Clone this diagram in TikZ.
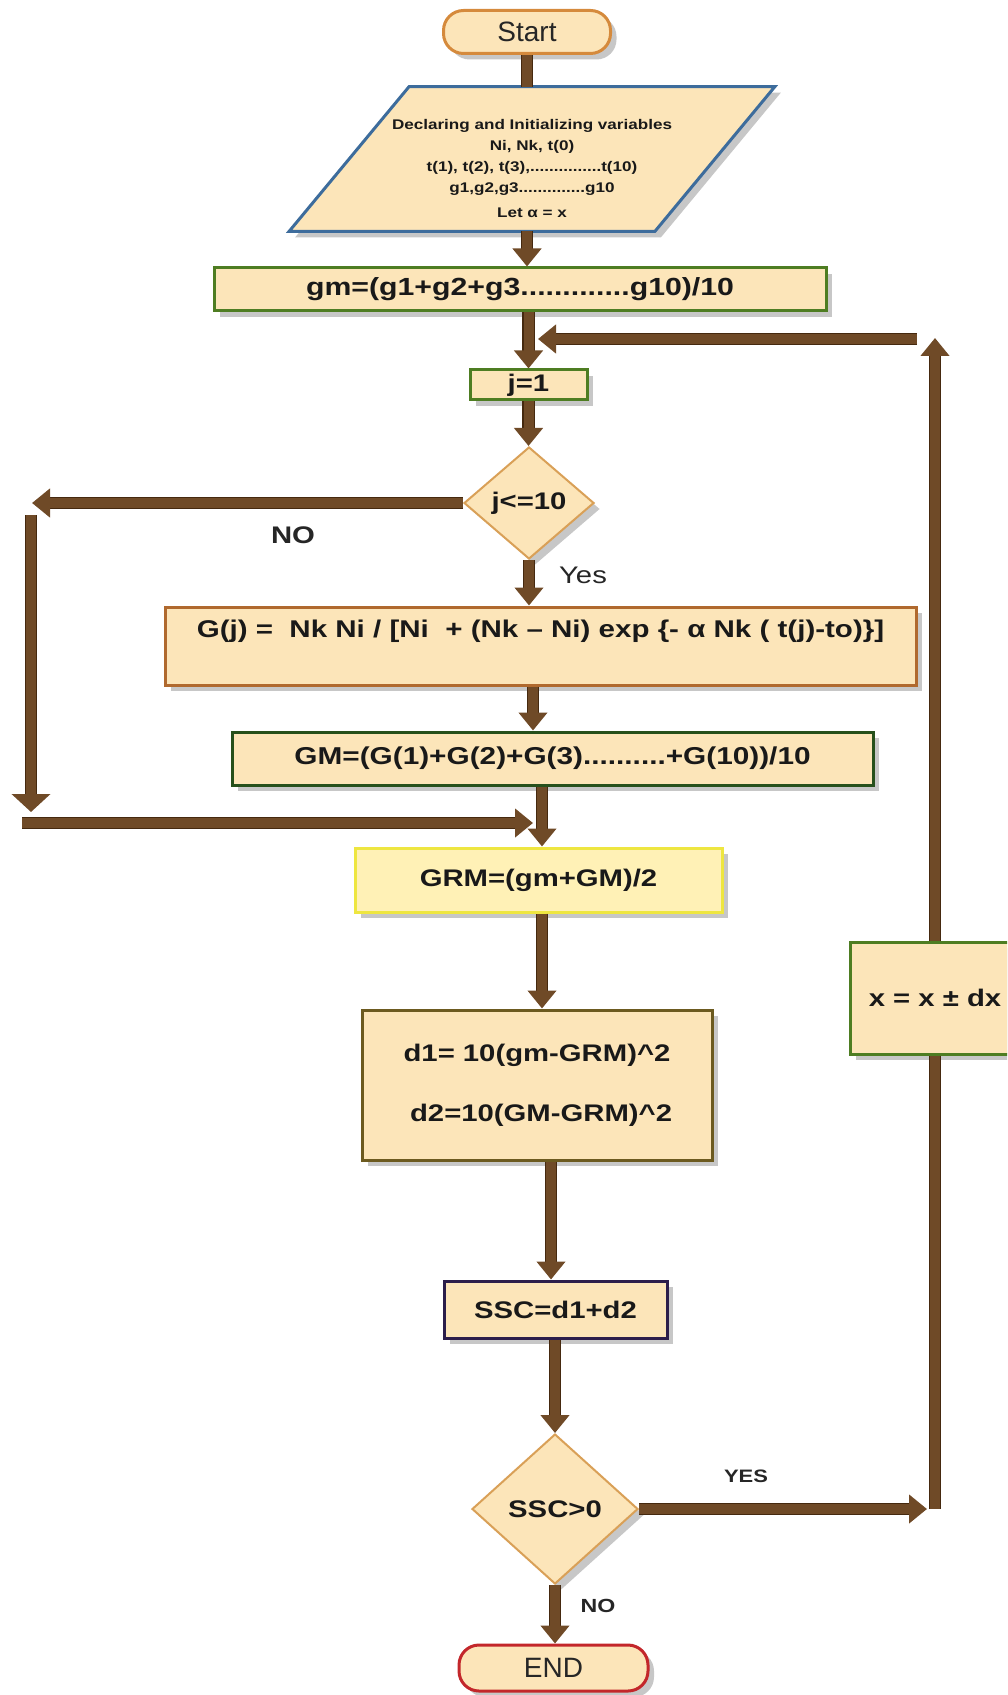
\documentclass[tikz,border=0pt]{standalone}
\usepackage{fontspec}
\setmainfont{Liberation Sans}
\newfontfamily\wideface[FakeStretch=1.22]{Liberation Sans}
\usetikzlibrary{shapes,arrows.meta,shadows,backgrounds,calc}
\definecolor{BoxSand}{HTML}{FCE5B9}
\definecolor{BoxLemon}{HTML}{FFF1B6}
\definecolor{FlowBrown}{HTML}{6F4A27}
\definecolor{FlowDark}{HTML}{45290F}
\definecolor{LeafGreen}{HTML}{4E7D22}
\definecolor{PineGreen}{HTML}{26501B}
\definecolor{SkyEdge}{HTML}{3D6C9C}
\definecolor{StartOrange}{HTML}{D58A3C}
\definecolor{EndRed}{HTML}{C3272B}
\definecolor{RustEdge}{HTML}{B0692E}
\definecolor{OliveEdge}{HTML}{6C5A1F}
\definecolor{PlumEdge}{HTML}{2C1E4B}
\definecolor{TanEdge}{HTML}{D9A057}
\definecolor{LemonEdge}{HTML}{EEE640}
\tikzset{
    boxshadow/.style = {drop shadow={shadow xshift=3pt, shadow yshift=-3pt, opacity=0.4, fill=black!55}},
    block/.style = {draw, rectangle, fill=BoxSand, line width=1.5pt, boxshadow, inner sep=0pt,
        text=black!90, font=\wideface\bfseries\fontsize{12}{14}\selectfont},
    terminal/.style = {draw, rectangle, rounded corners=10pt, fill=BoxSand, line width=1.5pt,
        boxshadow, text=black!85, font=\fontsize{14}{16}\selectfont},
    decision/.style = {draw=TanEdge, diamond, fill=BoxSand, line width=1pt, inner sep=0pt,
        boxshadow, text=black!90, font=\wideface\bfseries\fontsize{12}{14}\selectfont},
    flowarrow/.style = {draw=FlowBrown, line width=5pt, -{Triangle[width=14pt,length=9pt]},
        preaction={draw=FlowDark, line width=6.4pt, arrows=-, shorten >=8pt}},
    flowbar/.style = {draw=FlowBrown, line width=5pt,
        preaction={draw=FlowDark, line width=6.4pt}},
    flowtag/.style = {text=black!85, font=\wideface\bfseries\fontsize{9}{11}\selectfont}
}
\begin{document}
\begin{tikzpicture}[x=0.5pt,y=-0.5pt]
\useasboundingbox (0,0) rectangle (1007,1695);
\clip (0,0) rectangle (1007,1695);
\coordinate (colB) at (533,0);
\coordinate (colC) at (542,0);
\coordinate (colD) at (551,0);
\coordinate (noleft) at (32,503);
\coordinate (lefttop) at (31,515);
\coordinate (leftbot) at (31,812);
\coordinate (botleft) at (22,823);
\coordinate (botright) at (533,823);
\coordinate (fbstart) at (917,339);
\coordinate (fbtip) at (538,339);
\coordinate (xtop) at (935,338);
\coordinate (yesend) at (927,1509);

\node [terminal, draw=StartOrange, minimum width=83.5pt, minimum height=21.5pt] (start) at (527,32) {Start};
\node [minimum width=182.5pt, minimum height=72pt, inner sep=0pt, align=center, text=black!90,
    font=\wideface\bfseries\fontsize{7}{10.5}\selectfont] (params) at (532,159)
    {\rule{0pt}{15pt}Declaring and Initializing variables\\Ni, Nk, t(0)\\t(1), t(2), t(3),...............t(10)\\g1,g2,g3..............g10\\[2pt]Let α = x};
\begin{scope}[on background layer]
    \filldraw [fill=BoxSand, draw=SkyEdge, line width=1.5pt, boxshadow] ([xshift=30pt]params.north west) -- ([xshift=30pt]params.north east)
        -- ([xshift=-30pt]params.south east) -- ([xshift=-30pt]params.south west) -- cycle;
\end{scope}
\node [block, draw=LeafGreen, minimum width=306pt, minimum height=21.5pt,
    font=\wideface\bfseries\fontsize{12.4}{15}\selectfont] (gm) at (520,289.5) {gm=(g1+g2+g3.............g10)/10};
\node [block, draw=LeafGreen, minimum width=58.5pt, minimum height=15pt] (jone) at (528.5,385) {j=1};
\node [decision, minimum width=65pt, minimum height=56pt] (jcheck) at (529,503) {j<=10};
\node [block, draw=RustEdge, minimum width=375.5pt, minimum height=39pt, text height=15pt, text depth=24pt,
    font=\wideface\bfseries\fontsize{12.1}{14}\selectfont] (gj) at (540.5,646)
    {G(j) =\ \ Nk Ni / [Ni\ \ + (Nk – Ni) exp \{- α Nk ( t(j)-to)\}]};
\node [block, draw=PineGreen, minimum width=320.5pt, minimum height=26.5pt,
    font=\wideface\bfseries\fontsize{12.2}{15}\selectfont] (GM) at (552.5,758.5) {GM=(G(1)+G(2)+G(3)..........+G(10))/10};
\node [block, draw=LemonEdge, fill=BoxLemon, minimum width=183.5pt, minimum height=32pt] (GRM) at (538.5,880) {GRM=(gm+GM)/2};
\node [block, draw=OliveEdge, minimum width=175pt, minimum height=75pt, align=center] (dbox) at (537,1085)
    {d1= 10(gm-GRM)\textasciicircum 2\\[16pt]\ d2=10(GM-GRM)\textasciicircum 2};
\node [block, draw=PlumEdge, minimum width=111.5pt, minimum height=28.5pt] (ssc) at (555.5,1309.5) {SSC=d1+d2};
\node [decision, minimum width=83pt, minimum height=75pt] (sscheck) at (555,1509) {SSC>0};
\node [block, draw=LeafGreen, minimum width=85pt, minimum height=56pt] (xbox) at (935,998) {x = x ± dx};
\node [terminal, draw=EndRed, minimum width=94.5pt, minimum height=23pt] (finish) at (553.5,1668) {END};

\node [flowtag, font=\wideface\bfseries\fontsize{12}{14}\selectfont] (nolabel) at (293,535) {NO};
\node [flowtag, font=\wideface\fontsize{12}{14}\selectfont] (yeslabel) at (583,575) {Yes};
\node [flowtag] (yestag) at (746,1476) {YES};
\node [flowtag, font=\wideface\bfseries\fontsize{9.5}{11}\selectfont] (notag) at (598,1606) {NO};

\draw [flowbar] (start.south) -- (start.south |- params.north);
\draw [flowarrow] (params.south -| start.south) -- (gm.north -| start.south);
\draw [flowarrow] (gm.south -| jone.north) -- (jone.north);
\draw [flowarrow] (jone.south) -- (jone.south |- jcheck.north);
\draw [flowarrow] (fbstart) -- (fbtip);
\draw [flowarrow] (jcheck.west) -- (noleft);
\draw [flowarrow, -{Triangle[width=19pt,length=9pt]}] (lefttop) -- (leftbot);
\draw [flowarrow] (botleft) -- (botright);
\draw [flowarrow] (jcheck.south) -- (jcheck.south |- gj.north);
\draw [flowarrow] (gj.south -| colB) -- (GM.north -| colB);
\draw [flowarrow] (GM.south -| colC) -- (GRM.north -| colC);
\draw [flowarrow] (GRM.south -| colC) -- (dbox.north -| colC);
\draw [flowarrow] (dbox.south -| colD) -- (ssc.north -| colD);
\draw [flowarrow] (ssc.south -| sscheck.north) -- (sscheck.north);
\draw [flowarrow] (sscheck.south) -- (sscheck.south |- finish.north);
\draw [flowarrow] (sscheck.east) -- (yesend);
\draw [flowbar] (xbox.south) -- (xbox.south |- yesend);
\draw [flowarrow] (xbox.north) -- (xbox.north |- xtop);
\end{tikzpicture}
\end{document}
